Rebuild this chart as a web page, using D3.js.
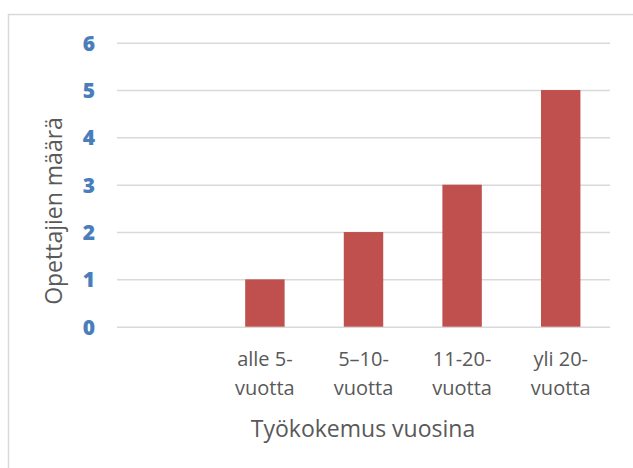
<!DOCTYPE html>
<html>
<head>
<meta charset="utf-8">
<script src="https://cdn.jsdelivr.net/npm/d3@7"></script>
<style>
  html, body { margin: 0; padding: 0; background: #fff; }
  svg { display: block; }
</style>
</head>
<body>
<svg id="chart" width="633" height="468"></svg>
<script>
// Data
const categories = ["", "alle 5-vuotta", "5\u201310-vuotta", "11-20-vuotta", "yli 20-vuotta"];
const values = [0, 1, 2, 3, 5];
const yTicks = [0, 1, 2, 3, 4, 5, 6];
const xTitle = "Työkokemus vuosina";
const yTitle = "Opettajien määrä";

const W = 633, H = 468;
const margin = { left: 117, right: 23, top: 42.7, bottom: 468 - 326.7 };
const svg = d3.select("#chart");

// chart border
svg.append("rect")
  .attr("x", 8.5).attr("y", 14.5)
  .attr("width", W + 10).attr("height", H + 10)
  .attr("fill", "#fff").attr("stroke", "#d9d9d9").attr("stroke-width", 1.5);

const x = d3.scaleBand()
  .domain(categories)
  .range([margin.left, W - margin.right])
  .paddingInner(0.6)
  .paddingOuter(0.3);

const y = d3.scaleLinear()
  .domain([0, 6])
  .range([H - margin.bottom, margin.top]);

// gridlines
const yAxis = d3.axisLeft(y)
  .tickValues(yTicks)
  .tickSize(-(W - margin.right - margin.left))
  .tickFormat(d3.format("d"));

const gy = svg.append("g")
  .attr("transform", `translate(${margin.left},0)`)
  .call(yAxis);
gy.select(".domain").remove();
gy.selectAll(".tick line").attr("stroke", "#d9d9d9").attr("stroke-width", 1.5);
gy.selectAll(".tick text")
  .attr("fill", "#4a7ebb")
  .attr("font-family", "'Open Sans', sans-serif")
  .attr("font-weight", 800)
  .attr("font-size", 21)
  .attr("text-anchor", "middle")
  .attr("dy", "0.36em")
  .attr("x", 89 - margin.left);

// bars
svg.append("g").selectAll("rect")
  .data(categories.map((c, i) => ({ c, v: values[i] })).filter(d => d.v > 0))
  .join("rect")
  .attr("x", d => x(d.c))
  .attr("width", x.bandwidth())
  .attr("y", d => y(d.v))
  .attr("height", d => y(0) - y(d.v))
  .attr("fill", "#c0504d");

// x axis labels
const xAxis = d3.axisBottom(x).tickSize(0).tickFormat("");
const gx = svg.append("g")
  .attr("transform", `translate(0,${y(0)})`)
  .call(xAxis);
gx.select(".domain").remove();
gx.selectAll(".tick").each(function(d) {
  const parts = d ? d.replace(/-(?=vuotta)/, "-\n").split("\n") : [];
  const t = d3.select(this).append("text")
    .attr("fill", "#595959")
    .attr("font-family", "'Open Sans', sans-serif")
    .attr("font-size", 20)
    .attr("text-anchor", "middle");
  parts.forEach((p, i) => {
    t.append("tspan").attr("x", 0).attr("y", 39 + i * 29).text(p);
  });
});

// axis titles
svg.append("text")
  .attr("x", 363)
  .attr("y", 437)
  .attr("text-anchor", "middle")
  .attr("fill", "#595959")
  .attr("font-family", "'Open Sans', sans-serif")
  .attr("font-size", 23)
  .text(xTitle);

svg.append("text")
  .attr("transform", `translate(62, 211) rotate(-90)`)
  .attr("text-anchor", "middle")
  .attr("fill", "#595959")
  .attr("font-family", "'Open Sans', sans-serif")
  .attr("font-size", 23)
  .text(yTitle);
</script>
</body>
</html>
